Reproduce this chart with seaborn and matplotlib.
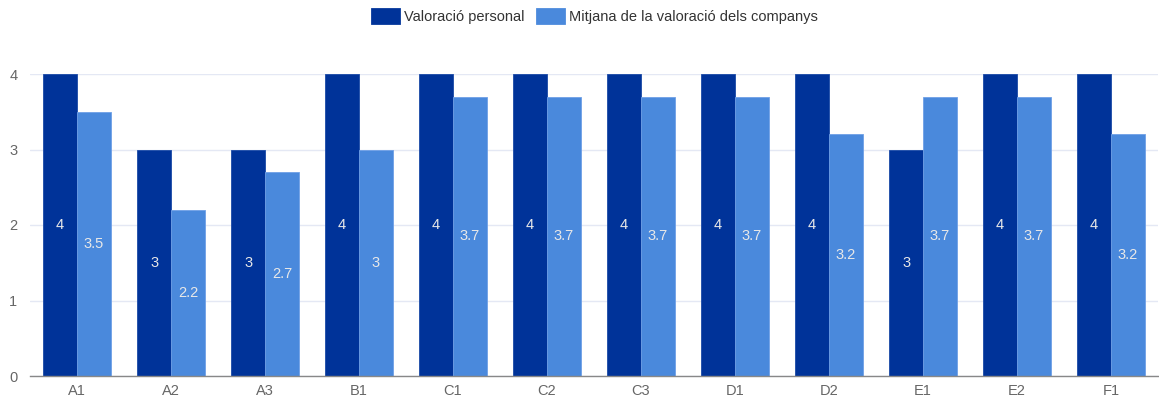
import matplotlib
matplotlib.use("Agg")
import matplotlib.pyplot as plt
import seaborn as sns
import pandas as pd
import numpy as np
from matplotlib.patches import Patch

categories = ["A1", "A2", "A3", "B1", "C1", "C2", "C3", "D1", "D2", "E1", "E2", "F1"]
personal = [4, 3, 3, 4, 4, 4, 4, 4, 4, 3, 4, 4]
companys = [3.5, 2.2, 2.7, 3, 3.7, 3.7, 3.7, 3.7, 3.2, 3.7, 3.7, 3.2]
series_names = ["Valoració personal", "Mitjana de la valoració dels companys"]
colors = ["#003399", "#4a89dc"]

df = pd.DataFrame({
    "cat": categories * 2,
    "val": personal + companys,
    "serie": [series_names[0]] * len(categories) + [series_names[1]] * len(categories),
})

sns.set_theme(style="white")
plt.rcParams["font.family"] = ["Liberation Sans", "DejaVu Sans"]

fig = plt.figure(figsize=(11.59, 4.01), dpi=100)
ax = fig.add_axes([30 / 1159, 25 / 401, 1128 / 1159, 302 / 401])

sns.barplot(data=df, x="cat", y="val", hue="serie", palette=colors, width=0.72,
            saturation=1, ax=ax, legend=False, order=categories, hue_order=series_names)

for i, cont in enumerate(ax.containers):
    for bar in cont:
        bar.set_edgecolor("#6fa0e6" if i == 1 else "#1a4aa6")
        bar.set_linewidth(0.6)
        h = bar.get_height()
        ax.text(bar.get_x() + bar.get_width() / 2, h / 2, f"{h:g}",
                ha="center", va="center", color="#e8e8e8", fontsize=10.5)

ax.set_ylim(0, 4)
ax.set_xlim(-0.5, len(categories) - 0.5)
ax.set_yticks([0, 1, 2, 3, 4])
ax.yaxis.grid(True, color="#e4e8f4", linewidth=1)
ax.set_axisbelow(True)
for s in ["top", "right", "left"]:
    ax.spines[s].set_visible(False)
ax.spines["bottom"].set_color("#888888")
ax.spines["bottom"].set_linewidth(1)
ax.set_xlabel("")
ax.set_ylabel("")
ax.tick_params(axis="y", length=0, labelcolor="#666666", labelsize=10.5, pad=9)
ax.tick_params(axis="x", which="major", length=0, labelcolor="#666666", labelsize=10.5, pad=6)
ax.set_xticks(np.arange(-0.5, len(categories), 1), minor=True)
ax.tick_params(axis="x", which="minor", length=5, color="#888888", width=1)

handles = [Patch(facecolor=c, edgecolor=c, joinstyle="round", linewidth=2) for c in colors]
fig.legend(handles, series_names, loc="upper center", bbox_to_anchor=(595 / 1159, 1.01), ncol=2,
           frameon=False, fontsize=10.5, handlelength=1.9, handleheight=1.05,
           columnspacing=0.8, handletextpad=0.35, labelcolor="#333333")

fig.savefig("out.png", dpi=100)
